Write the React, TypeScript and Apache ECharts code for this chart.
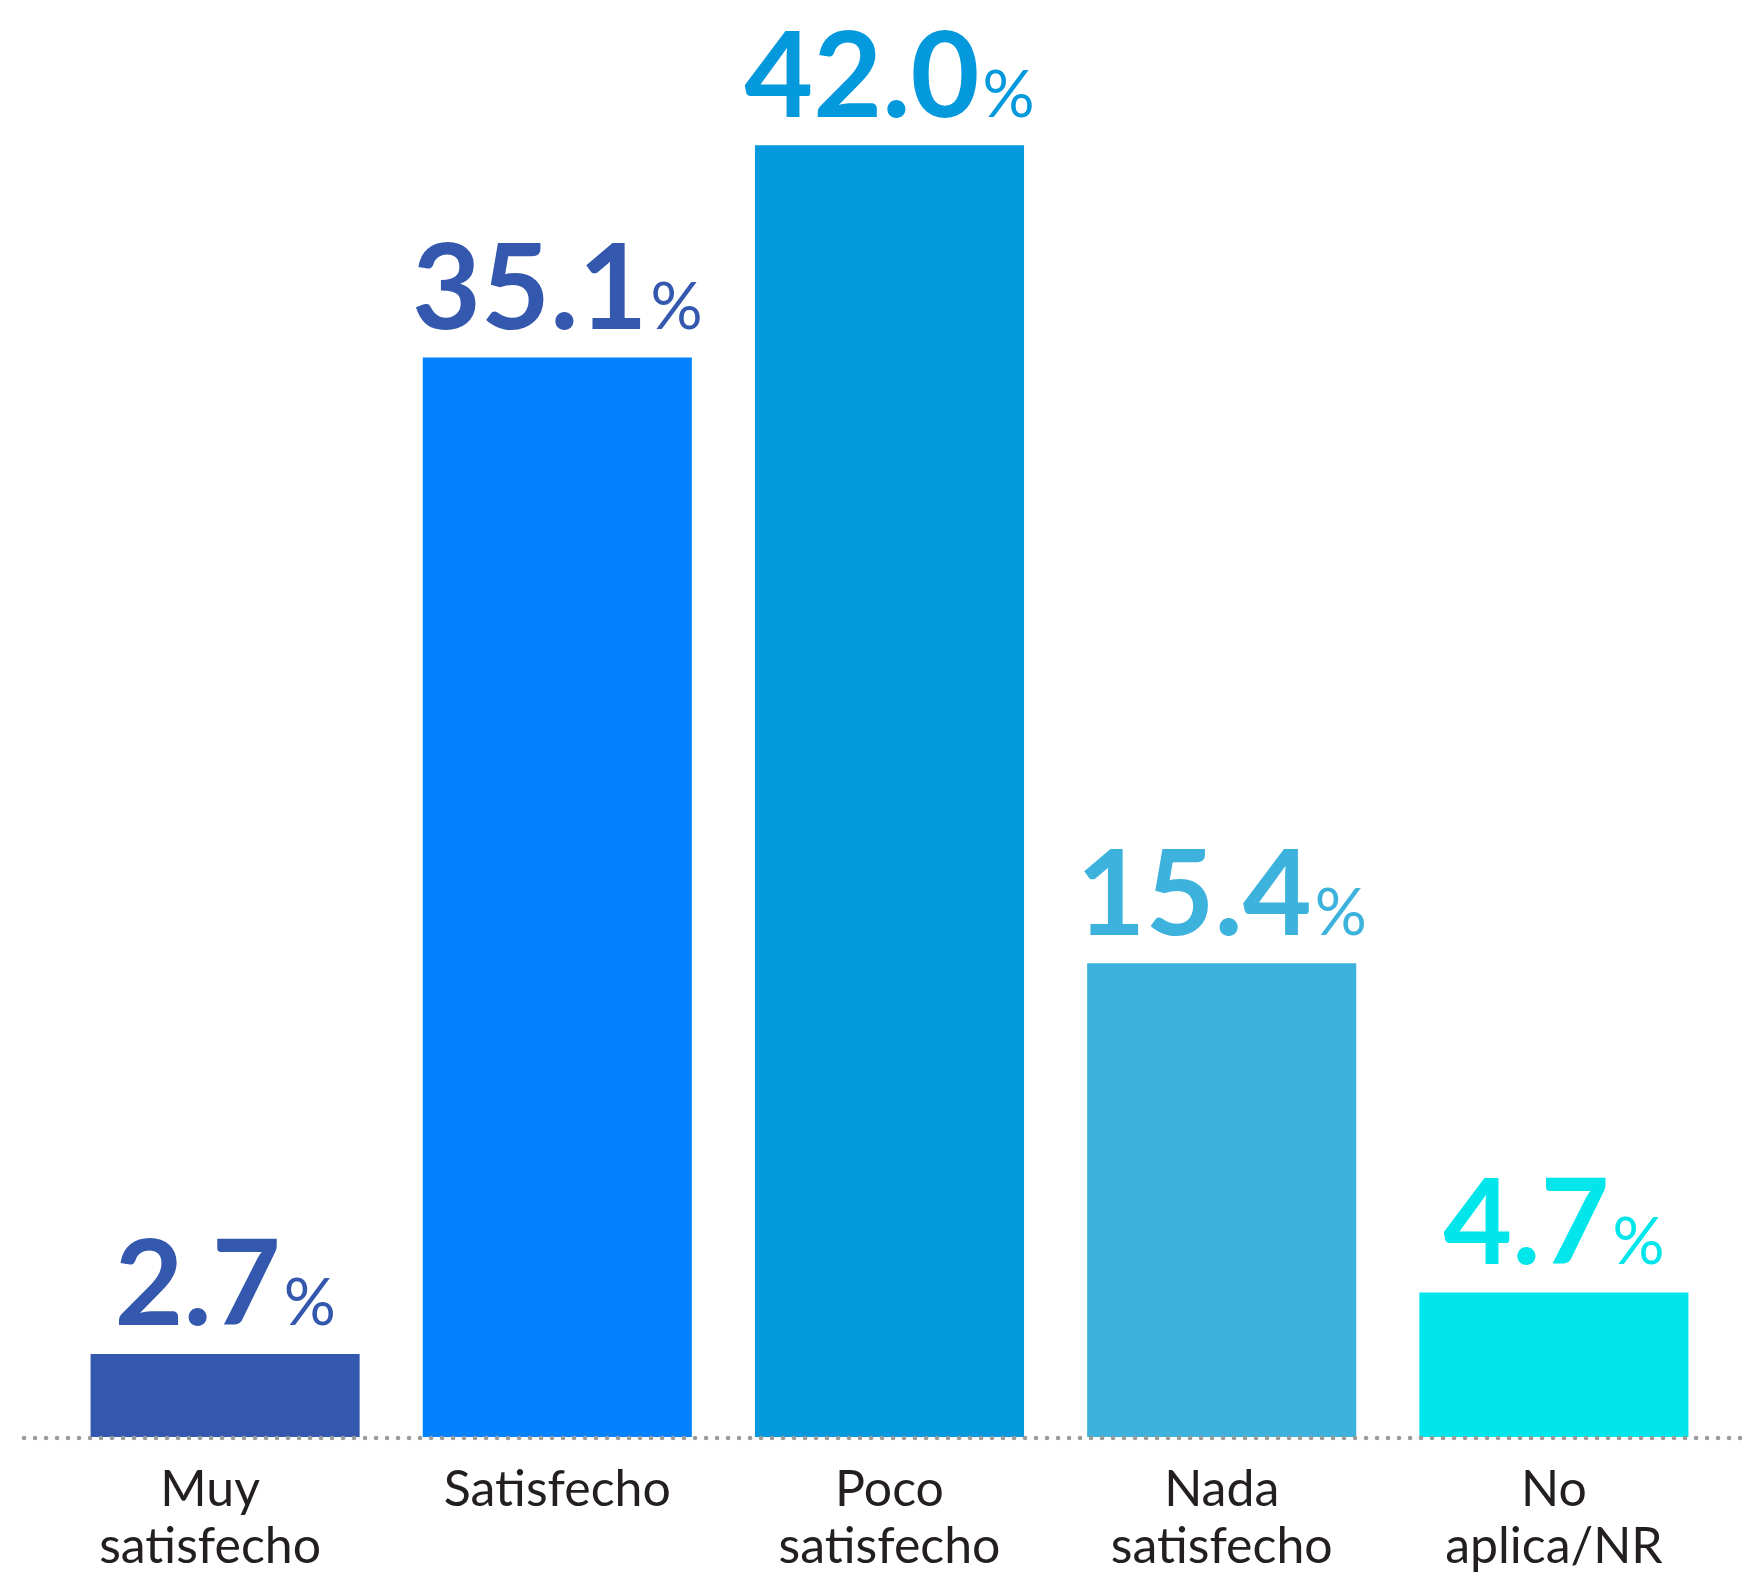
import React, { useEffect, useRef } from "react";
import * as echarts from "echarts";

const categories = ["Muy\nsatisfecho", "Satisfecho", "Poco\nsatisfecho", "Nada\nsatisfecho", "No\naplica/NR"];
const values = [2.7, 35.1, 42.0, 15.4, 4.7];
const barColors = ["#3458AE", "#0381FE", "#0498DD", "#3CB2DD", "#00E6EB"];
const labelColors = ["#3458AE", "#3458AE", "#0498DD", "#3CB2DD", "#00E6EB"];

export default function App() {
  const ref = useRef<HTMLDivElement>(null);
  useEffect(() => {
    document.body.style.margin = "0";
    const chart = echarts.init(ref.current!, null, { renderer: "svg" });
    const option: any = {
      animation: false,
      backgroundColor: "#ffffff",
      grid: { left: 59, right: 22, top: 53, bottom: 135, containLabel: false },
      xAxis: {
        type: "category",
        data: categories.map((c, i) =>
          i === 0 ? { value: c, textStyle: { padding: [0, 30, 0, 0] } } : c
        ),
        axisLine: { show: false },
        axisTick: { show: false },
        axisLabel: {
          fontFamily: "Lato",
          fontSize: 50,
          lineHeight: 57,
          color: "#231f20",
          margin: 21,
          interval: 0,
        },
      },
      yAxis: { type: "value", min: 0, max: 45, show: false, splitLine: { show: false } },
      series: [
        {
          type: "bar",
          barWidth: "81%",
          data: values.map((v, i) => ({
            value: v,
            itemStyle: { color: barColors[i] },
            label: { color: labelColors[i] },
          })),
          label: {
            show: true,
            position: "top",
            distance: 15,
            formatter: (p: any) => `{v|${Number(p.value).toFixed(1)}}{p|%}`,
            rich: {
              v: { fontFamily: "Lato", fontWeight: "bold", fontSize: 119, verticalAlign: "bottom", lineHeight: 100 },
              p: { fontFamily: "Lato", fontWeight: "normal", fontSize: 65, verticalAlign: "bottom", lineHeight: 100, padding: [0, 0, 6, 3] },
            },
          },
        },
      ],
    };
    chart.setOption(option);
    const y0 = chart.convertToPixel({ yAxisIndex: 0 }, 0) as number;
    chart.setOption({
      graphic: [
        {
          type: "line",
          z: 10,
          shape: { x1: 24, y1: y0 + 1, x2: 1742, y2: y0 + 1 },
          style: { stroke: "#9b9b9b", lineWidth: 4.5, lineDash: [0.1, 10.9], lineCap: "round" },
        },
      ],
    });
    return () => chart.dispose();
  }, []);
  return <div ref={ref} style={{ width: 1742, height: 1572 }} />;
}
